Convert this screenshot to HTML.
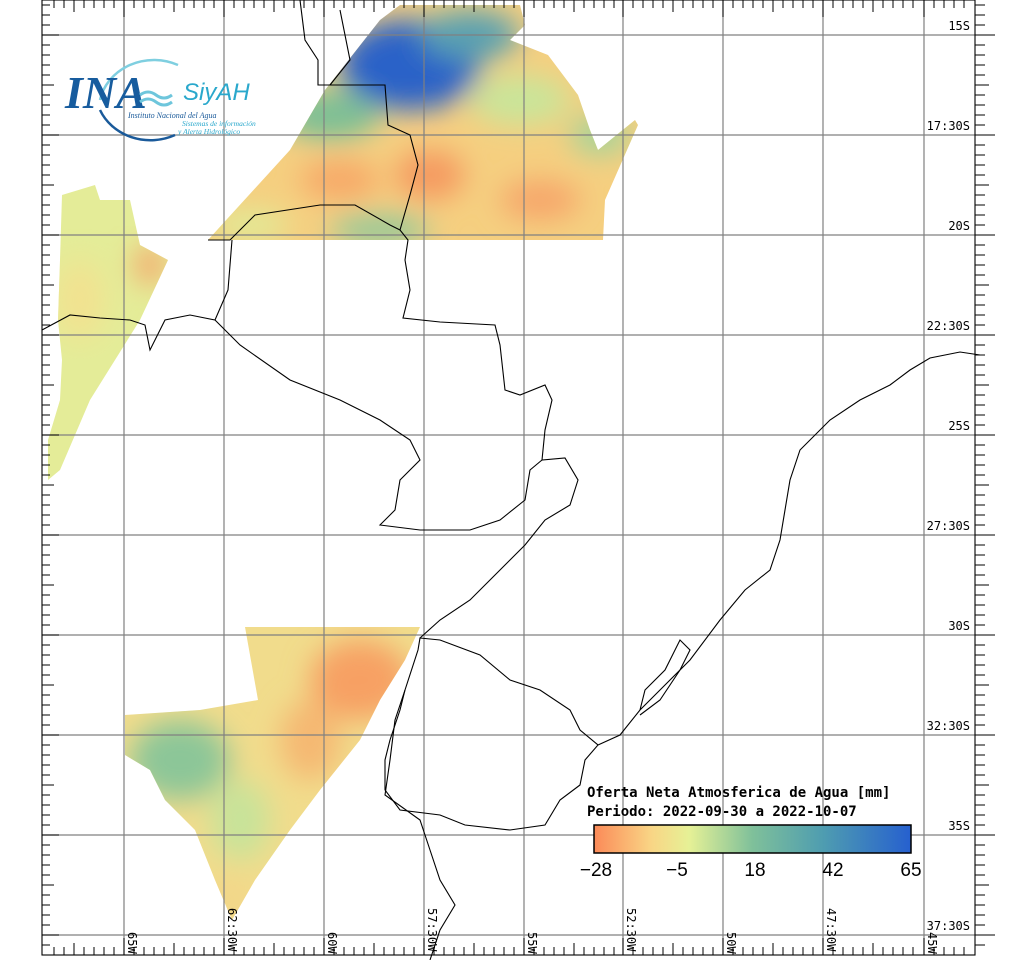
<!DOCTYPE html>
<html><head><meta charset="utf-8"><style>
html,body{margin:0;padding:0;background:#fff;}
svg{display:block;font-family:"DejaVu Sans Mono","Liberation Mono",monospace;}
</style></head><body>
<svg width="1024" height="960" viewBox="0 0 1024 960" xmlns="http://www.w3.org/2000/svg">
<defs>
<linearGradient id="cb" x1="0" x2="1">
<stop offset="0" stop-color="#fb8a58"/><stop offset="0.18" stop-color="#f9d585"/>
<stop offset="0.3" stop-color="#e6f196"/><stop offset="0.5" stop-color="#7fc09a"/>
<stop offset="0.72" stop-color="#4f9db0"/><stop offset="1" stop-color="#2660cf"/>
</linearGradient>
<filter id="bl" x="-20%" y="-20%" width="140%" height="140%"><feGaussianBlur stdDeviation="14"/></filter>
<clipPath id="c1"><polygon points="208,240 290,150 325,90 380,20 400,5 520,5 525,25 510,40 548,55 578,95 590,130 598,150 635,120 638,125 605,200 603,240"/></clipPath>
<clipPath id="c2"><polygon points="62,195 95,185 100,200 130,200 140,245 168,260 140,320 115,360 90,400 60,470 48,480 48,440 60,400 62,360 58,320 60,260"/></clipPath>
<clipPath id="c3"><polygon points="245,627 420,627 405,660 380,700 360,740 320,790 290,830 255,880 232,920 215,880 195,830 165,800 150,770 125,755 125,715 200,710 258,700"/></clipPath>
</defs>

<g clip-path="url(#c1)">
<rect x="200" y="0" width="450" height="250" fill="#f5cf80"/>
<g filter="url(#bl)">
<ellipse cx="410" cy="65" rx="70" ry="45" fill="#2a62c8"/>
<ellipse cx="470" cy="35" rx="50" ry="25" fill="#5aa0b0"/>
<ellipse cx="330" cy="115" rx="50" ry="25" fill="#7cbf95"/>
<ellipse cx="520" cy="100" rx="50" ry="25" fill="#c9e59a"/>
<ellipse cx="600" cy="135" rx="30" ry="20" fill="#a6d49a"/>
<ellipse cx="430" cy="175" rx="35" ry="25" fill="#f59a60"/>
<ellipse cx="340" cy="180" rx="40" ry="20" fill="#f7a868"/>
<ellipse cx="540" cy="200" rx="40" ry="20" fill="#f6a66a"/>
<ellipse cx="380" cy="230" rx="50" ry="15" fill="#8fc89b"/>
<ellipse cx="250" cy="225" rx="40" ry="15" fill="#e0ec98"/>
</g></g>
<g clip-path="url(#c2)">
<rect x="40" y="180" width="140" height="310" fill="#e4ec98"/>
<g filter="url(#bl)"><ellipse cx="150" cy="265" rx="15" ry="20" fill="#f5a46a"/>
<ellipse cx="80" cy="300" rx="25" ry="40" fill="#f2e290"/></g>
</g>
<g clip-path="url(#c3)">
<rect x="120" y="620" width="310" height="310" fill="#f1dc8c"/>
<g filter="url(#bl)">
<ellipse cx="360" cy="680" rx="50" ry="40" fill="#f7a064"/>
<ellipse cx="310" cy="740" rx="30" ry="40" fill="#f5b872"/>
<ellipse cx="180" cy="760" rx="50" ry="40" fill="#8cc698"/>
<ellipse cx="240" cy="820" rx="30" ry="40" fill="#c8e39a"/>
<ellipse cx="230" cy="900" rx="20" ry="25" fill="#f3d688"/>
</g></g>

<g stroke="#808080" stroke-width="1.2">
<line x1="124" y1="0" x2="124" y2="955"/><line x1="224" y1="0" x2="224" y2="955"/>
<line x1="324" y1="0" x2="324" y2="955"/><line x1="424" y1="0" x2="424" y2="955"/>
<line x1="524" y1="0" x2="524" y2="955"/><line x1="623" y1="0" x2="623" y2="955"/>
<line x1="723" y1="0" x2="723" y2="955"/><line x1="823" y1="0" x2="823" y2="955"/>
<line x1="924" y1="0" x2="924" y2="955"/>
<line x1="42" y1="35" x2="975" y2="35"/><line x1="42" y1="135" x2="975" y2="135"/>
<line x1="42" y1="235" x2="975" y2="235"/><line x1="42" y1="335" x2="975" y2="335"/>
<line x1="42" y1="435" x2="975" y2="435"/><line x1="42" y1="535" x2="975" y2="535"/>
<line x1="42" y1="635" x2="975" y2="635"/><line x1="42" y1="735" x2="975" y2="735"/>
<line x1="42" y1="835" x2="975" y2="835"/><line x1="42" y1="935" x2="975" y2="935"/>
</g>

<g fill="none" stroke="#000" stroke-width="1.1">
<path d="M300,0 L305,40 L318,60 L318,85 L385,85 L388,125 L410,135 L418,165 L410,195 L400,230 L408,240 L405,260 L410,290 L403,318 L440,322 L495,325 L500,345 L505,390 L520,395 L545,385 L552,400 L545,430 L542,460 L565,458 L578,480 L570,505 L545,520 L525,545 L495,575 L470,600 L440,620 L420,638"/>
<path d="M208,240 L230,240 L255,215 L320,205 L355,205 L390,225 L400,230"/>
<path d="M232,240 L228,290 L215,320 L190,315 L165,320 L150,350 L145,325 L130,320 L100,318 L70,315 L42,330"/>
<path d="M215,320 L240,345 L290,380 L340,400 L380,420 L410,440 L420,460 L400,480 L395,510 L380,525 L420,530 L470,530 L500,520 L525,500 L530,470 L542,460"/>
<path d="M340,10 L350,60 L330,85"/>
<path d="M420,638 L440,640 L480,655 L510,680 L540,690 L570,710 L580,730 L598,745 L585,760 L580,785 L560,800 L545,825 L510,830 L465,825 L440,815 L400,810 L385,790 L385,760 L390,740 L400,710 L405,690 L418,650 Z"/>
<path d="M405,690 L395,720 L390,760 L385,795 L420,820 L430,850 L440,880 L455,905 L440,930 L430,960"/>
<path d="M598,745 L620,735 L640,710 L660,690 L690,660 L720,620 L745,590 L770,570 L780,540 L785,510 L790,480 L800,450 L830,420 L860,400 L890,385 L910,370 L930,358 L960,352 L980,355"/>
<path d="M640,710 L645,690 L665,670 L680,640 L690,650 L680,670 L660,700 L640,715"/>
<rect x="42" y="0" width="933" height="955"/>
</g>

<!-- axis ticks -->
<g stroke="#000" stroke-width="1">
<path d="M42,5h8M42,15h8M42,25h8M42,35h17M42,45h8M42,55h8M42,65h8M42,75h8M42,85h12M42,95h8M42,105h8M42,115h8M42,125h8M42,135h17M42,145h8M42,155h8M42,165h8M42,175h8M42,185h12M42,195h8M42,205h8M42,215h8M42,225h8M42,235h17M42,245h8M42,255h8M42,265h8M42,275h8M42,285h12M42,295h8M42,305h8M42,315h8M42,325h8M42,335h17M42,345h8M42,355h8M42,365h8M42,375h8M42,385h12M42,395h8M42,405h8M42,415h8M42,425h8M42,435h17M42,445h8M42,455h8M42,465h8M42,475h8M42,485h12M42,495h8M42,505h8M42,515h8M42,525h8M42,535h17M42,545h8M42,555h8M42,565h8M42,575h8M42,585h12M42,595h8M42,605h8M42,615h8M42,625h8M42,635h17M42,645h8M42,655h8M42,665h8M42,675h8M42,685h12M42,695h8M42,705h8M42,715h8M42,725h8M42,735h17M42,745h8M42,755h8M42,765h8M42,775h8M42,785h12M42,795h8M42,805h8M42,815h8M42,825h8M42,835h17M42,845h8M42,855h8M42,865h8M42,875h8M42,885h12M42,895h8M42,905h8M42,915h8M42,925h8M42,935h17M42,945h8"/>
<path d="M975,5h10M975,15h10M975,25h10M975,35h20M975,45h10M975,55h10M975,65h10M975,75h10M975,85h14M975,95h10M975,105h10M975,115h10M975,125h10M975,135h20M975,145h10M975,155h10M975,165h10M975,175h10M975,185h14M975,195h10M975,205h10M975,215h10M975,225h10M975,235h20M975,245h10M975,255h10M975,265h10M975,275h10M975,285h14M975,295h10M975,305h10M975,315h10M975,325h10M975,335h20M975,345h10M975,355h10M975,365h10M975,375h10M975,385h14M975,395h10M975,405h10M975,415h10M975,425h10M975,435h20M975,445h10M975,455h10M975,465h10M975,475h10M975,485h14M975,495h10M975,505h10M975,515h10M975,525h10M975,535h20M975,545h10M975,555h10M975,565h10M975,575h10M975,585h14M975,595h10M975,605h10M975,615h10M975,625h10M975,635h20M975,645h10M975,655h10M975,665h10M975,675h10M975,685h14M975,695h10M975,705h10M975,715h10M975,725h10M975,735h20M975,745h10M975,755h10M975,765h10M975,775h10M975,785h14M975,795h10M975,805h10M975,815h10M975,825h10M975,835h20M975,845h10M975,855h10M975,865h10M975,875h10M975,885h14M975,895h10M975,905h10M975,915h10M975,925h10M975,935h20M975,945h10"/>
</g>
<g stroke="#000" stroke-width="1" id="tt">
<path d="M54,0v8M64,0v8M74,0v12M84,0v8M94,0v8M104,0v8M114,0v8M124,0v17M134,0v8M144,0v8M154,0v8M164,0v8M174,0v12M184,0v8M194,0v8M204,0v8M214,0v8M224,0v17M234,0v8M244,0v8M254,0v8M264,0v8M274,0v12M284,0v8M294,0v8M304,0v8M314,0v8M324,0v17M334,0v8M344,0v8M354,0v8M364,0v8M374,0v12M384,0v8M394,0v8M404,0v8M414,0v8M424,0v17M434,0v8M444,0v8M454,0v8M464,0v8M474,0v12M484,0v8M494,0v8M504,0v8M514,0v8M524,0v17M534,0v8M544,0v8M554,0v8M564,0v8M574,0v12M584,0v8M594,0v8M604,0v8M614,0v8M623,0v17M633,0v8M643,0v8M653,0v8M663,0v8M673,0v12M683,0v8M693,0v8M703,0v8M713,0v8M723,0v17M733,0v8M743,0v8M753,0v8M763,0v8M773,0v12M783,0v8M793,0v8M803,0v8M813,0v8M823,0v17M833,0v8M843,0v8M853,0v8M863,0v8M873,0v12M883,0v8M893,0v8M903,0v8M913,0v8M924,0v17M934,0v8M944,0v8M954,0v8M964,0v8"/>
</g>
<use href="#tt" transform="translate(0,955) scale(1,-1)"/>

<g font-size="12" fill="#000" text-anchor="end">
<text x="970" y="30">15S</text><text x="970" y="130">17:30S</text>
<text x="970" y="230">20S</text><text x="970" y="330">22:30S</text>
<text x="970" y="430">25S</text><text x="970" y="530">27:30S</text>
<text x="970" y="630">30S</text><text x="970" y="730">32:30S</text>
<text x="970" y="830">35S</text><text x="970" y="930">37:30S</text>
</g>
<g font-size="12" fill="#000">
<text transform="translate(128,932) rotate(90)">65W</text>
<text transform="translate(228,908) rotate(90)">62:30W</text>
<text transform="translate(328,932) rotate(90)">60W</text>
<text transform="translate(428,908) rotate(90)">57:30W</text>
<text transform="translate(528,932) rotate(90)">55W</text>
<text transform="translate(627,908) rotate(90)">52:30W</text>
<text transform="translate(727,932) rotate(90)">50W</text>
<text transform="translate(827,908) rotate(90)">47:30W</text>
<text transform="translate(928,932) rotate(90)">45W</text>
</g>

<path d="M100,100 A55,50 0 0 1 178,65" fill="none" stroke="#7fcfe0" stroke-width="2.5"/>
<path d="M100,110 A55,50 0 0 0 175,135" fill="none" stroke="#1a5a9a" stroke-width="2.5"/>
<text x="65" y="108" font-family="Liberation Serif,serif" font-style="italic" font-weight="bold" font-size="46" fill="#175c9e">INA</text>
<path d="M140,95 q8,-6 16,0 t16,0 M140,102 q8,-6 16,0 t16,0" stroke="#6ec6dc" stroke-width="3" fill="none"/>
<text x="183" y="100" font-family="Liberation Sans,sans-serif" font-style="italic" font-size="24" fill="#2aa8cc">SiyAH</text>
<text x="128" y="118" font-family="Liberation Serif,serif" font-style="italic" font-size="8" fill="#1a5a9a">Instituto Nacional del Agua</text>
<text x="182" y="126" font-family="Liberation Serif,serif" font-style="italic" font-size="7.5" fill="#2aa8cc">Sistemas de información</text>
<text x="178" y="134" font-family="Liberation Serif,serif" font-style="italic" font-size="7.5" fill="#2aa8cc">y Alerta Hidrológico</text>

<text x="587" y="797" font-size="14" font-weight="bold" fill="#000">Oferta Neta Atmosferica de Agua [mm]</text>
<text x="587" y="816" font-size="14" font-weight="bold" fill="#000">Periodo: 2022-09-30 a 2022-10-07</text>
<rect x="594" y="825" width="317" height="28" fill="url(#cb)" stroke="#000" stroke-width="1.5"/>
<g font-family="Liberation Sans,sans-serif" font-size="19" fill="#000" text-anchor="middle">
<text x="596" y="876">−28</text><text x="677" y="876">−5</text>
<text x="755" y="876">18</text><text x="833" y="876">42</text><text x="911" y="876">65</text>
</g>
</svg>
</body></html>
